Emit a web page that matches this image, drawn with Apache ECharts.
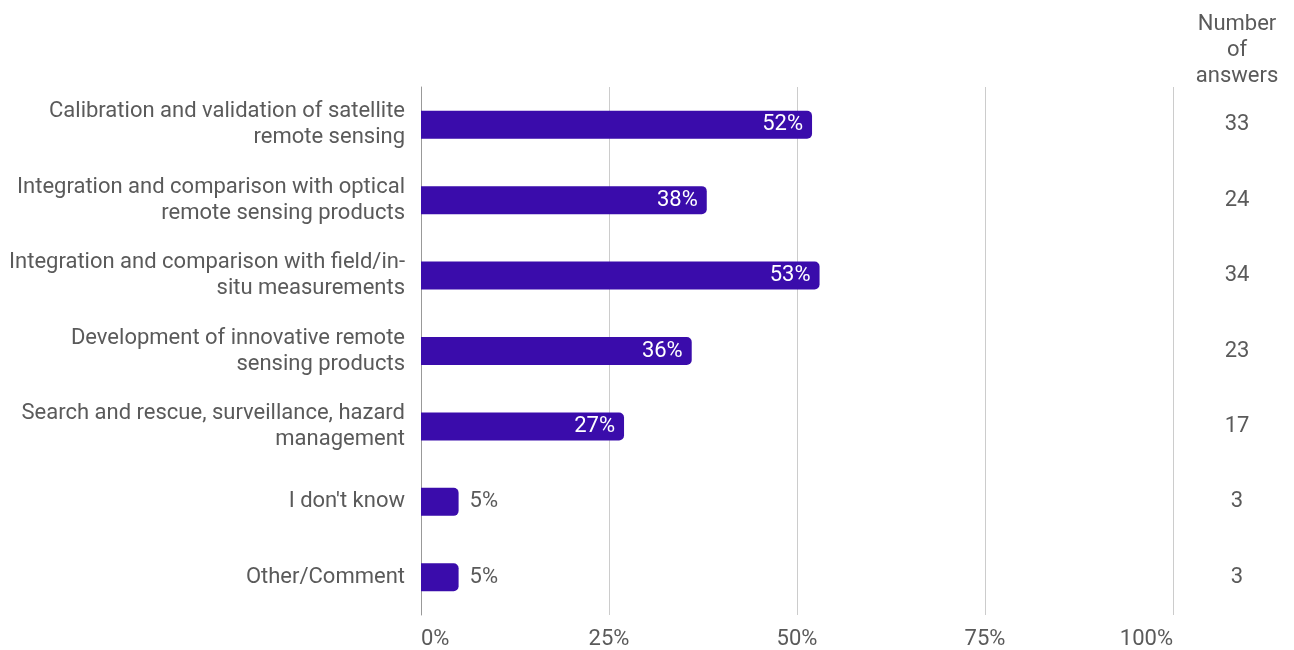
<!DOCTYPE html>
<html>
<head>
<meta charset="utf-8">
<script src="https://cdn.jsdelivr.net/npm/echarts@6/dist/echarts.min.js"></script>
<style>
  html, body { margin: 0; padding: 0; background: #fff; }
  #chart { width: 1294px; height: 650px; }
</style>
</head>
<body>
<div id="chart"></div>
<script>
const categories = [
  'Calibration and validation of satellite\nremote sensing',
  'Integration and comparison with optical\nremote sensing products',
  'Integration and comparison with field/in-\nsitu measurements',
  'Development of innovative remote\nsensing products',
  'Search and rescue, surveillance, hazard\nmanagement',
  "I don't know",
  'Other/Comment'
];
const percentages = [52, 38, 53, 36, 27, 5, 5];
const answerCounts = [33, 24, 34, 23, 17, 3, 3];
const xTicks = [0, 25, 50, 75, 100];
const countHeader = 'Number\nof\nanswers';

const FONT = 'Roboto';
const SIZE = 22;
const TEXT = '#5a5a5a';
const BAR = '#3a0cab';
// Roboto sits a little high when centred on its em box; nudge labels down.
const NUDGE = [5, 0, 0, 0];

const chart = echarts.init(document.getElementById('chart'), null, { renderer: 'canvas' });

// Short bars carry their label outside, long ones inside near the end.
const barData = percentages.map(v => ({
  value: v,
  label: v >= 10
    ? { position: 'insideRight', distance: 9, color: '#ffffff' }
    : { position: 'right', distance: 11, color: TEXT }
}));

chart.setOption({
  animation: false,
  textStyle: { fontFamily: FONT },
  grid: { left: 421, right: 121, top: 87, bottom: 31, containLabel: false },
  xAxis: {
    type: 'value',
    min: xTicks[0],
    max: xTicks[xTicks.length - 1],
    interval: 25,
    axisLine: { show: false },
    axisTick: { show: false },
    splitLine: { show: true, lineStyle: { color: '#cccccc', width: 1 } },
    axisLabel: {
      color: TEXT,
      fontSize: SIZE,
      fontFamily: FONT,
      margin: 13,
      alignMinLabel: 'left',
      alignMaxLabel: 'right',
      formatter: v => v + '%'
    }
  },
  yAxis: [
    {
      type: 'category',
      data: categories,
      inverse: true,
      axisLine: { show: true, lineStyle: { color: '#999999', width: 1 } },
      axisTick: { show: false },
      axisLabel: {
        color: TEXT,
        fontSize: SIZE,
        fontFamily: FONT,
        lineHeight: 26,
        align: 'right',
        padding: NUDGE,
        margin: 16
      }
    },
    {
      type: 'category',
      data: answerCounts.map(String),
      inverse: true,
      position: 'right',
      axisLine: { show: false },
      axisTick: { show: false },
      axisLabel: {
        color: TEXT,
        fontSize: SIZE,
        fontFamily: FONT,
        align: 'center',
        padding: NUDGE,
        margin: 64
      }
    }
  ],
  graphic: [
    {
      type: 'text',
      x: 1237,
      y: 11,
      style: {
        text: countHeader,
        fill: TEXT,
        font: SIZE + 'px ' + FONT,
        lineHeight: 26,
        align: 'center',
        verticalAlign: 'top'
      }
    }
  ],
  series: [
    {
      type: 'bar',
      yAxisIndex: 0,
      data: barData,
      barWidth: 28,
      itemStyle: { color: BAR, borderRadius: [0, 5, 5, 0] },
      label: {
        show: true,
        fontSize: SIZE,
        fontFamily: FONT,
        padding: NUDGE,
        formatter: p => p.value + '%'
      }
    }
  ]
});
</script>
</body>
</html>
